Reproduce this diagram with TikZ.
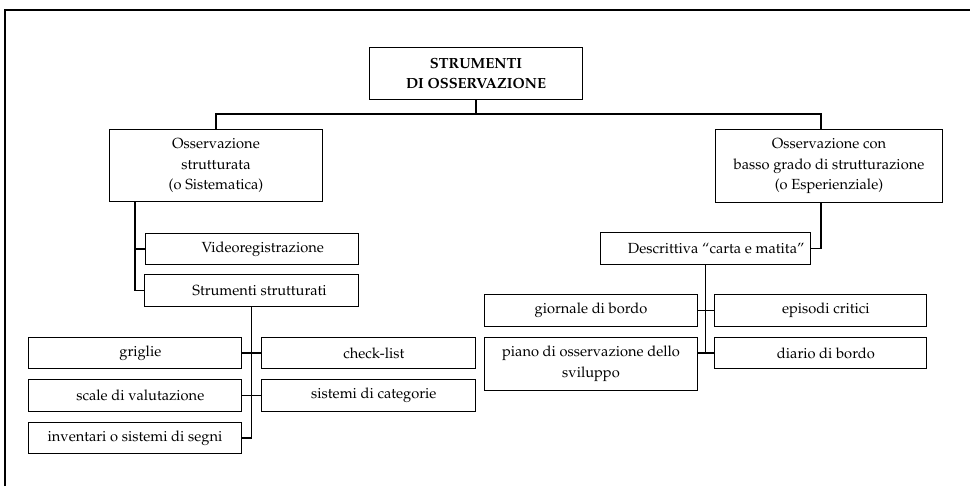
\documentclass[tikz,border=0pt]{standalone}
\usepackage[T1]{fontenc}
\usepackage{mathpazo}
\usepackage{tikz}

\begin{document}
\begin{tikzpicture}[x=0.75pt, y=-0.75pt,
		box/.style n args={2}{draw, line width=0.75pt, anchor=north west, inner sep=2pt,
			minimum width=#1*0.75pt, minimum height=#2*0.75pt, align=center,
			font=\fontsize{11}{15.5}\selectfont},
		link/.style={line width=1pt}]
		\useasboundingbox (0,0) rectangle (970,486);
		\draw[line width=1.5pt] (5,486) -- (5,10) -- (970,10);

		\node[box={213}{52}, font=\fontsize{11}{15}\selectfont\bfseries] (root) at (369,47) {STRUMENTI\\DI OSSERVAZIONE};
		\node[box={213}{72}] (struct) at (109,129) {Osservazione\\strutturata\\(o Sistematica)};
		\node[box={227}{73}] (esp) at (715,129) {Osservazione con\\basso grado di strutturazione\\(o Esperienziale)};

		\node[box={213}{31}] (video) at (145,233) {\hspace{16pt}Videoregistrazione};
		\node[box={214}{32}] (strum) at (144,274) {\hspace{12pt}Strumenti strutturati};
		\node[box={210}{32}] (descr) at (600,232) {\hspace{16pt}Descrittiva ``carta e matita''};

		\node[box={213}{31}] (grig) at (28,337) {\hspace{8pt}griglie};
		\node[box={214}{31}] (check) at (261,337) {\hspace{8pt}check-list};
		\node[box={213}{32}] (scale) at (28,379) {\hspace{8pt}scale di valutazione};
		\node[box={214}{32}] (sist) at (261,379) {\hspace{8pt}sistemi di categorie};
		\node[box={213}{31}] (inv) at (28,422) {inventari o sistemi di segni};

		\node[box={213}{32}] (giorn) at (484,294) {giornale di bordo};
		\node[box={212}{32}] (epis) at (714,294) {\hspace{8pt}episodi critici};
		\node[box={213}{53}] (piano) at (484,337) {piano di osservazione dello\\sviluppo};
		\node[box={212}{31}] (diario) at (714,337) {\hspace{8pt}diario di bordo};

		\coordinate (bar) at (475,114);
		\draw[link] (root) -- (root |- bar);
		\draw[link] (struct.north) -- (struct.north |- bar) -- ([xshift=-6pt]esp.north |- bar) -- ([xshift=-6pt]esp.north);

		\draw[link] (struct.south west) ++(26,0) |- (strum.west);
		\draw[link] (video.west) -- ++(-10,0);
		\draw[link] (strum.south) |- (inv.east);
		\draw[link] (grig.east) -- (check.west);
		\draw[link] (scale.east) -- (sist.west);

		\draw[link] ([xshift=-6pt]esp.south) |- (descr.east);
		\draw[link] (descr.south) |- (diario.west);
		\draw[link] (giorn.east) -- (epis.west);
		\draw[link] (piano.east |- diario.west) -- (diario.west);
	\end{tikzpicture}
\end{document}
